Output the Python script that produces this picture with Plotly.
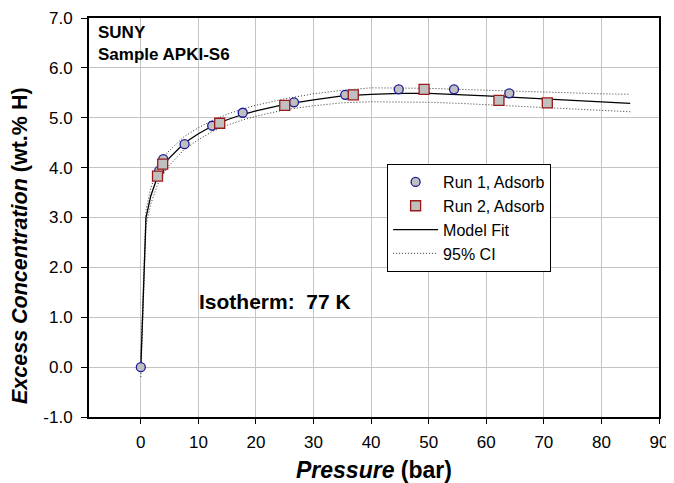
import plotly.graph_objects as go

# Data
run1_p = [0.0, 3.2, 3.9, 7.6, 12.4, 17.7, 26.6, 35.5, 44.8, 54.4, 64.0]
run1_c = [0.0, 3.94, 4.17, 4.47, 4.84, 5.10, 5.31, 5.46, 5.57, 5.57, 5.49]
run2_p = [2.9, 3.8, 13.7, 25.0, 36.9, 49.2, 62.2, 70.6]
run2_c = [3.83, 4.07, 4.89, 5.25, 5.46, 5.57, 5.35, 5.30]

fit_p = [0, 0.9, 1.7, 2.9, 4.6, 7.5, 10, 12.5, 15, 17.5, 20, 25, 30, 35, 40, 45, 50, 55, 60, 65, 70, 75, 80, 85]
fit_c = [0.0, 3.0, 3.42, 3.82, 4.15, 4.49, 4.68, 4.84, 4.96, 5.06, 5.14, 5.27, 5.36, 5.44, 5.47, 5.49, 5.49, 5.47, 5.44, 5.41, 5.38, 5.35, 5.32, 5.29]
ci_up = [0.2, 3.15, 3.58, 3.98, 4.30, 4.62, 4.80, 4.95, 5.07, 5.17, 5.25, 5.38, 5.48, 5.55, 5.60, 5.60, 5.59, 5.57, 5.55, 5.53, 5.51, 5.50, 5.48, 5.47]
ci_lo = [-0.2, 2.85, 3.26, 3.66, 4.00, 4.36, 4.56, 4.73, 4.85, 4.95, 5.03, 5.16, 5.24, 5.30, 5.32, 5.32, 5.31, 5.29, 5.26, 5.23, 5.20, 5.17, 5.14, 5.12]

x_ticks = [0, 10, 20, 30, 40, 50, 60, 70, 80, 90]
y_ticks = [-1, 0, 1, 2, 3, 4, 5, 6, 7]
y_ticktext = ["-1.0", "0.0", "1.0", "2.0", "3.0", "4.0", "5.0", "6.0", "7.0"]

FONT = "Liberation Sans, Arial, sans-serif"

fig = go.Figure()
fig.add_trace(go.Scatter(x=fit_p, y=ci_up, mode="lines", name="95% CI",
                         line=dict(color="#333333", width=1, dash="1px,2px"),
                         legendrank=4))
fig.add_trace(go.Scatter(x=fit_p, y=ci_lo, mode="lines", name="95% CI", showlegend=False,
                         line=dict(color="#333333", width=1, dash="1px,2px")))
fig.add_trace(go.Scatter(x=fit_p, y=fit_c, mode="lines", name="Model Fit",
                         line=dict(color="black", width=1.3), legendrank=3))
fig.add_trace(go.Scatter(x=run1_p, y=run1_c, mode="markers", name="Run 1, Adsorb",
                         marker=dict(symbol="circle", size=9, color="#c0c0c0",
                                     line=dict(color="#1a1a9a", width=1.3)),
                         legendrank=1))
fig.add_trace(go.Scatter(x=run2_p, y=run2_c, mode="markers", name="Run 2, Adsorb",
                         marker=dict(symbol="square", size=10, color="#c0c0c0",
                                     line=dict(color="#9a1a1a", width=1.3)),
                         legendrank=2))

fig.update_layout(
    width=666, height=475,
    margin=dict(l=81, r=15, t=10, b=66, autoexpand=False),
    paper_bgcolor="white", plot_bgcolor="white",
    font=dict(family=FONT, color="black"),
    showlegend=True,
    legend=dict(x=0.523, y=0.634, xanchor="left", yanchor="top",
                bgcolor="white", bordercolor="black", borderwidth=1,
                font=dict(size=16, family=FONT), tracegroupgap=0,
                itemwidth=45),
    annotations=[
        dict(xref="paper", yref="paper", x=0.012, y=0.937, xanchor="left", yanchor="middle",
             text="<b>SUNY<br>Sample APKI-S6</b>", showarrow=False, align="left",
             font=dict(size=17, family=FONT)),
        dict(xref="x", yref="y", x=9.8, y=1.32, xanchor="left", yanchor="middle",
             text="<b>Isotherm:&nbsp; 77 K</b>", showarrow=False,
             font=dict(size=21, family=FONT)),
        dict(xref="paper", yref="paper", x=0.5, y=-0.132, xanchor="center", yanchor="middle",
             text="<b><i>Pressure</i> (bar)</b>", showarrow=False,
             font=dict(size=23, family=FONT)),
        dict(xref="paper", yref="paper", x=-0.12, y=0.43, xanchor="center", yanchor="middle",
             text="<b><i>Excess Concentration</i> (wt.% H)</b>", showarrow=False,
             textangle=-90, font=dict(size=21.5, family=FONT)),
    ],
)
fig.update_xaxes(range=[-9, 90], tickvals=x_ticks, showgrid=True, gridcolor="#c4c4c4",
                 gridwidth=1, zeroline=False, showline=True, mirror=True, linecolor="black",
                 linewidth=2, ticks="outside", ticklen=5, tickcolor="black",
                 ticklabelstandoff=4, automargin=False,
                 tickfont=dict(size=17, family=FONT))
fig.update_yaxes(range=[-1, 7], tickvals=y_ticks, ticktext=y_ticktext, showgrid=True,
                 gridcolor="#c4c4c4", gridwidth=1, zeroline=False, showline=True, mirror=True,
                 linecolor="black", linewidth=2, ticks="outside", ticklen=6, tickcolor="black",
                 ticklabelstandoff=5, automargin=False,
                 tickfont=dict(size=17, family=FONT))

fig.write_html("out.html")
